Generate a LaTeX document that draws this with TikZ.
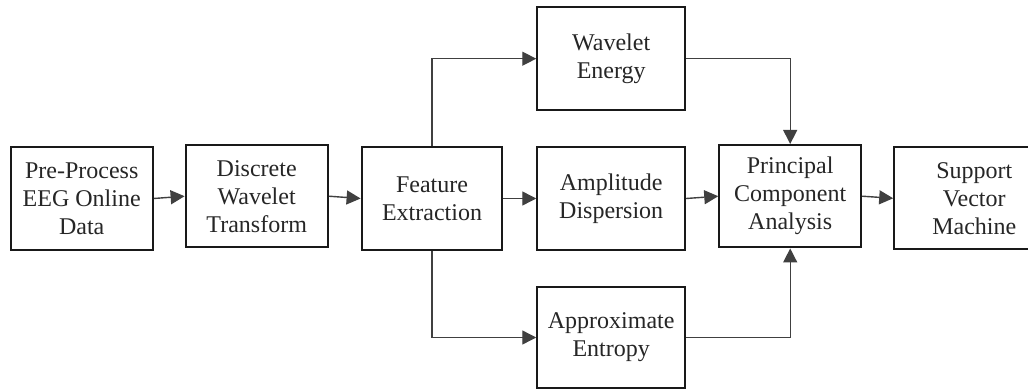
\documentclass[tikz,border=0pt]{standalone}
\usepackage{fontspec}
\setmainfont{Liberation Serif}
\usetikzlibrary{arrows.meta}
\tikzset{
  box/.style={draw=black!90, line width=2.2pt, inner sep=0pt, align=center,
    font=\fontsize{24}{28}\selectfont, text=black!85},
  conn/.style={draw=black!75, line width=1.4pt, -{Triangle[length=14pt,width=14pt]}}
}
\begin{document}
\begin{tikzpicture}[x=1pt,y=-1pt]
\useasboundingbox (0,0) rectangle (1028,390);
\clip (0,0) rectangle (1028,390);
\fill[white] (0,0) rectangle (1028,390);
\node[box, minimum width=142pt, minimum height=103pt] (pre) at (81.7,198.5) {Pre-Process\\EEG Online\\Data};
\node[box, minimum width=142pt, minimum height=102pt] (dwt) at (256.7,196.2) {Discrete\\Wavelet\\Transform};
\node[box, minimum width=140.6pt, minimum height=103pt] (fe) at (432,198.5) {Feature\\Extraction};
\node[box, minimum width=147.7pt, minimum height=102.7pt] (we) at (611.2,58.7) {Wavelet\\Energy};
\node[box, minimum width=147.7pt, minimum height=103pt] (ad) at (611.2,198.5) {Amplitude\\Dispersion};
\node[box, minimum width=147.7pt, minimum height=101pt] (ae) at (611.2,337.5) {Approximate\\Entropy};
\node[box, minimum width=141.7pt, minimum height=102.3pt] (pca) at (790.2,196.2) {Principal\\Component\\Analysis};
\node[box, minimum width=160pt, minimum height=102pt] (svm) at (974.3,198.3) {Support\\Vector\\Machine};
\draw[conn] (pre.east) -- (dwt.west);
\draw[conn] (dwt.east) -- (fe.west);
\draw[conn] (fe.east) -- (ad.west);
\draw[conn] (ad.east) -- (pca.west);
\draw[conn] (pca.east) -- (svm.west);
\draw[conn] (fe.north) |- (we.west);
\draw[conn] (fe.south) |- (ae.west);
\draw[conn] (we.east) -| (pca.north);
\draw[conn] (ae.east) -| (pca.south);
\end{tikzpicture}
\end{document}
